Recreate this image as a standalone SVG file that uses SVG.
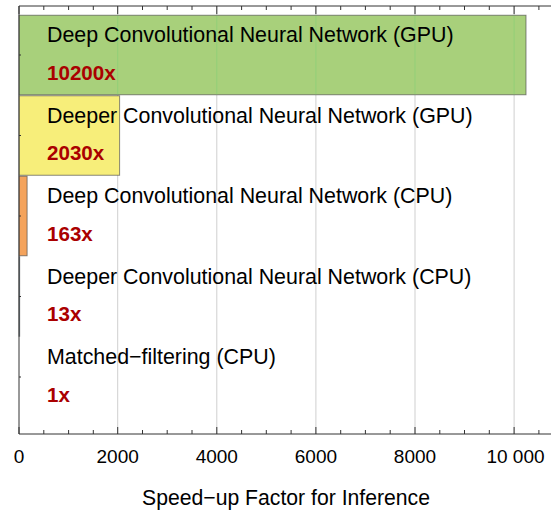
<svg xmlns="http://www.w3.org/2000/svg" width="551" height="511" viewBox="0 0 551 511">
<style>
.bar{stroke:#4a4a4a;stroke-opacity:0.65;stroke-width:1}
.name{font-family:"Liberation Sans",Arial,sans-serif;font-size:21.4px;fill:#000}
.title{font-family:"Liberation Sans",Arial,sans-serif;font-size:21.2px;fill:#000;text-anchor:middle}
.val{font-family:"Liberation Sans",Arial,sans-serif;font-size:20.6px;font-weight:bold;fill:#aa0000}
.tick{font-family:"Liberation Sans",Arial,sans-serif;font-size:19px;fill:#000;text-anchor:middle}
.grid{stroke:#cfcfcf;stroke-width:1}
.ax{stroke:#333;stroke-width:1;fill:none}
</style>
<rect width="551" height="511" fill="#fff"/>
<g id="gridlines">
<line class="grid" x1="117.7" y1="6" x2="117.7" y2="434"/>
<line class="grid" x1="216.8" y1="6" x2="216.8" y2="434"/>
<line class="grid" x1="315.9" y1="6" x2="315.9" y2="434"/>
<line class="grid" x1="415" y1="6" x2="415" y2="434"/>
<line class="grid" x1="514.1" y1="6" x2="514.1" y2="434"/>
</g>
<g id="bar-dcnn-gpu">
<rect class="bar" x="19" y="15.25" width="507" height="79.5" fill="#a8d07b"/>
<g stroke="#92cf78" stroke-width="1">
<line x1="117.7" y1="15.75" x2="117.7" y2="94.25"/>
<line x1="216.8" y1="15.75" x2="216.8" y2="94.25"/>
<line x1="315.9" y1="15.75" x2="315.9" y2="94.25"/>
<line x1="415" y1="15.75" x2="415" y2="94.25"/>
<line x1="514.1" y1="15.75" x2="514.1" y2="94.25"/>
</g>
<text class="name" x="47" y="42">Deep Convolutional Neural Network (GPU)</text>
<text class="val" x="47" y="79.5">10200x</text>
</g>
<g id="bar-deeper-gpu">
<rect class="bar" x="19" y="95.75" width="100.6" height="79.5" fill="#f7ee7a"/>
<text class="name" x="47" y="122.5">Deeper Convolutional Neural Network (GPU)</text>
<text class="val" x="47" y="160">2030x</text>
</g>
<g id="bar-dcnn-cpu">
<rect class="bar" x="19" y="176.25" width="8.1" height="79.5" fill="#f4a35c"/>
<text class="name" x="47" y="203">Deep Convolutional Neural Network (CPU)</text>
<text class="val" x="47" y="240.5">163x</text>
</g>
<g id="bar-deeper-cpu">
<rect class="bar" x="19" y="256.75" width="0.65" height="79.5" fill="#8fb3d9"/>
<text class="name" x="47" y="283.5">Deeper Convolutional Neural Network (CPU)</text>
<text class="val" x="47" y="321">13x</text>
</g>
<g id="bar-matched-filtering">
<text class="name" x="47" y="364">Matched−filtering (CPU)</text>
<text class="val" x="47" y="401.5">1x</text>
</g>
<g id="axes">
<path class="ax" d="M19 6H551M19 6V434M19 434H551"/>
<path class="ax" d="M19 6v8M117.7 6v8M216.8 6v8M315.9 6v8M415 6v8M514.1 6v8
M43.8 6v4M68.6 6v4M93.3 6v4M142.5 6v4M167.2 6v4M192 6v4M241.6 6v4M266.3 6v4M291.1 6v4M340.7 6v4M365.4 6v4M390.2 6v4M439.8 6v4M464.5 6v4M489.3 6v4M538.9 6v4"/>
<path class="ax" d="M19 434v-7M117.7 434v-7M216.8 434v-7M315.9 434v-7M415 434v-7M514.1 434v-7
M43.8 434v-4M68.6 434v-4M93.3 434v-4M142.5 434v-4M167.2 434v-4M192 434v-4M241.6 434v-4M266.3 434v-4M291.1 434v-4M340.7 434v-4M365.4 434v-4M390.2 434v-4M439.8 434v-4M464.5 434v-4M489.3 434v-4M538.9 434v-4"/>
<path class="ax" d="M19 55h2M19 135.5h2M19 216h2M19 296.5h2M19 377h2"/>
<text class="tick" x="19" y="463">0</text>
<text class="tick" x="117.7" y="463">2000</text>
<text class="tick" x="216.8" y="463">4000</text>
<text class="tick" x="315.9" y="463">6000</text>
<text class="tick" x="415" y="463">8000</text>
<text class="tick" x="515.5" y="463">10 000</text>
<text class="title" x="286" y="505">Speed−up Factor for Inference</text>
</g>
</svg>
